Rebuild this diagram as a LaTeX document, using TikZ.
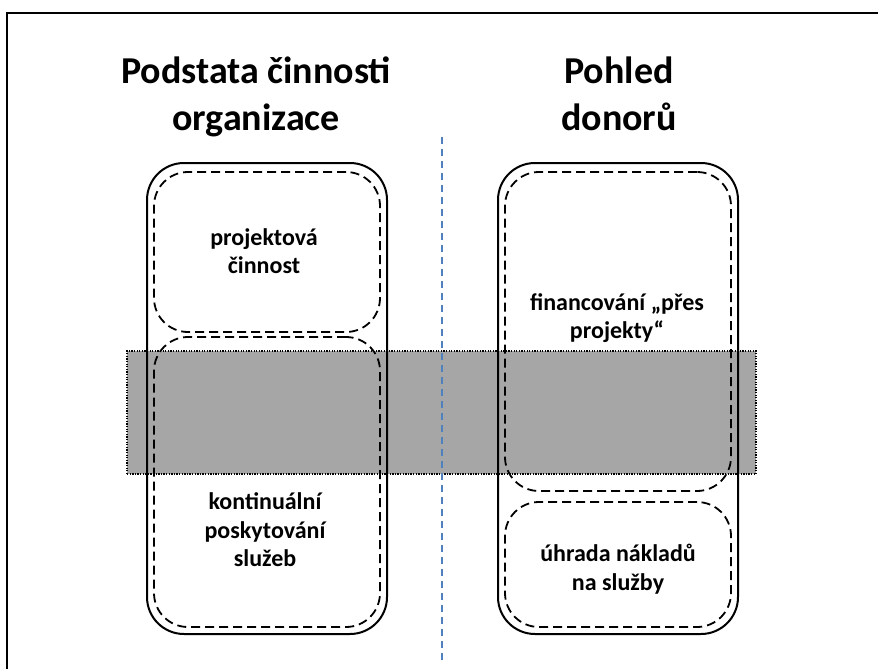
\documentclass[tikz,border=0pt]{standalone}
\usepackage{fontspec}
\setmainfont{Carlito}
\definecolor{bandgray}{HTML}{A6A6A6}
\definecolor{divblue}{HTML}{4F81BD}
\begin{document}
\begin{tikzpicture}[x=1pt,y=-1pt,
	outerbox/.style={draw, line width=2pt, rounded corners=37pt, minimum width=240pt, minimum height=471pt, inner sep=0pt},
	innerbox/.style={draw, line width=1.8pt, dash pattern=on 9pt off 5pt, rounded corners=34pt, minimum width=226pt, inner sep=0pt},
	band/.style={draw, fill=bandgray, line width=1.3pt, dash pattern=on 1.3pt off 1.3pt, minimum width=629pt, minimum height=123pt, inner sep=0pt},
	divider/.style={divblue, line width=2.3pt, dash pattern=on 7pt off 5pt},
	title/.style={font=\fontsize{38}{47}\selectfont\bfseries, align=center},
	boxtext/.style={font=\fontsize{24}{28.5}\selectfont\bfseries, align=center}]
	% % Page and frame
		\useasboundingbox (0,0) rectangle (878,669);
		\coordinate (frametr) at (878,13);
		\coordinate (frametl) at (7,13);
		\coordinate (framebl) at (7,669);
		\draw[line width=1.8pt] (frametr) -- (frametl) -- (framebl);
	% % Gray band behind the boxes
		\node[band] (band) at (441.5,412.5) {};
	% % Divider
		\coordinate (divtop) at (442,137);
		\coordinate (divbot) at (442,664);
		\draw[divider] (divtop) -- (divbot);
	% % Titles
		\node[title] (orgtitle) at (256,97) {Podstata činnosti\\organizace};
		\node[title] (dontitle) at (619,94) {Pohled\\donorů};
	% % Outer boxes
		\node[outerbox] (org) at (267,398.5) {};
		\node[outerbox] (don) at (618,398.5) {};
	% % Inner dashed boxes
		\node[innerbox, minimum height=160pt] (orgproj) at (267,252) {};
		\node[innerbox, minimum height=290pt] (orgserv) at (267,482) {};
		\node[innerbox, minimum height=319pt] (donproj) at (618,331.5) {};
		\node[innerbox, minimum height=125pt] (donserv) at (618,564.5) {};
	% % Box texts
		\node[boxtext] (projtext) at (264,251) {projektová\\činnost};
		\node[boxtext] (servtext) at (265,530) {kontinuální\\poskytování\\služeb};
		\node[boxtext] (fintext) at (617,318) {financování „přes\\projekty“};
		\node[boxtext] (costtext) at (618,569) {úhrada nákladů\\na služby};
\end{tikzpicture}
\end{document}
